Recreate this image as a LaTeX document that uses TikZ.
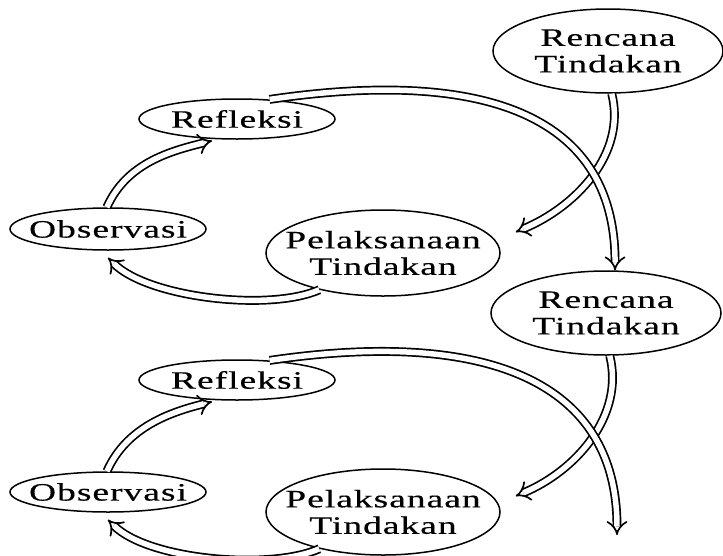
\documentclass[tikz,border=0pt]{standalone}
\usepackage{fontspec}
\setmainfont{Liberation Serif}[FakeStretch=1.5,LetterSpace=4,FakeBold=0.4]
\usetikzlibrary{shapes.geometric,arrows.meta}
\begin{document}
\begin{tikzpicture}[x=1pt,y=-1pt,
  el/.style={draw,ellipse,line width=1.5pt,inner sep=0pt},
  txt/.style={label={[font=\fontsize{25}{26.5}\selectfont,align=center]center:#1}},
  big/.style={el,minimum width=230pt,minimum height=84pt},
  small/.style={el,minimum width=196pt,minimum height=40pt},
  dbl/.style={double,double distance=5.5pt,line width=1.7pt,-{Implies[scale=1.6]}}]
\useasboundingbox (0,0) rectangle (723,555);
% upper cycle
\node[big,txt={Rencana\\Tindakan}] (r1) at (608,51) {};
\node[small,txt={Refleksi}] (ref1) at (237,119) {};
\node[small,minimum height=42pt,txt={Observasi}] (obs1) at (108,229) {};
\node[big,minimum width=234pt,minimum height=86pt,txt={Pelaksanaan\\Tindakan}] (pel1) at (383,253) {};
% lower cycle
\node[big,txt={Rencana\\Tindakan}] (r2) at (606,313) {};
\node[small,txt={Refleksi}] (ref2) at (237,380) {};
\node[small,txt={Observasi}] (obs2) at (108,492) {};
\node[big,minimum width=234pt,minimum height=86pt,txt={Pelaksanaan\\Tindakan}] (pel2) at (383,512) {};
\coordinate (t1) at ([shift={(15,-21)}]pel1.east);
\coordinate (t2) at ([shift={(15,-16)}]pel2.east);
\coordinate (e2) at (617,535);
% upper arrows
\draw[dbl] (r1.-85) .. controls +(15,60) and +(60,-25) .. (t1);
\draw[dbl] (ref1.31) .. controls +(203,-30) and +(0,-162) .. (r2.78);
\draw[dbl] (pel1.-150) .. controls +(-50,22) and +(40,40) .. ([shift={(0,7)}]obs1.south);
\draw[dbl] (obs1.93) .. controls +(20,-45) and +(-40,10) .. ([shift={(-25,1)}]ref1.south);
% lower arrows
\draw[dbl] (r2.-85) .. controls +(15,60) and +(60,-25) .. (t2);
\draw[dbl] (ref2.31) .. controls +(203,-30) and +(0,-162) .. (e2);
\draw[dbl] (pel2.-150) .. controls +(-50,22) and +(40,40) .. ([shift={(0,7)}]obs2.south);
\draw[dbl] (obs2.93) .. controls +(20,-45) and +(-40,10) .. ([shift={(-25,1)}]ref2.south);
\end{tikzpicture}
\end{document}
